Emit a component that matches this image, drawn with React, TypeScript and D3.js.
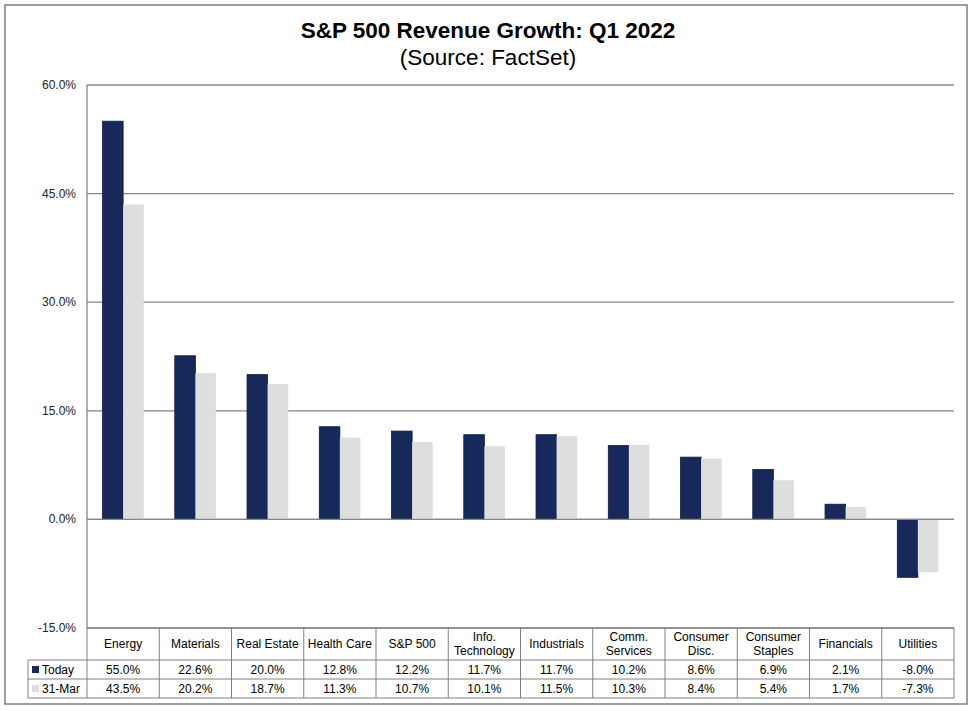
import React, { useEffect, useRef } from 'react';
import * as d3 from 'd3';

// sectors in chart order
const sectors = [
  'Energy', 'Materials', 'Real Estate', 'Health Care', 'S&P 500', 'Info. Technology',
  'Industrials', 'Comm. Services', 'Consumer Disc.', 'Consumer Staples', 'Financials', 'Utilities',
];
// header labels as they wrap in the table
const sectorLines: string[][] = [
  ['Energy'], ['Materials'], ['Real Estate'], ['Health Care'], ['S&P 500'], ['Info.', 'Technology'],
  ['Industrials'], ['Comm.', 'Services'], ['Consumer', 'Disc.'], ['Consumer', 'Staples'], ['Financials'], ['Utilities'],
];
const todayValues = [55.0, 22.6, 20.0, 12.8, 12.2, 11.7, 11.7, 10.2, 8.6, 6.9, 2.1, -8.0];
const marchValues = [43.5, 20.2, 18.7, 11.3, 10.7, 10.1, 11.5, 10.3, 8.4, 5.4, 1.7, -7.3];
const seriesNames = ['Today', '31-Mar'];
const seriesColors = ['#17295a', '#dedede'];
const yTicks = [-15, 0, 15, 30, 45, 60];

const W = 975;
const H = 711;

// plain hyphen for negatives, like the source
const pct = (v: number) => d3.format('.1f')(v).replace('\u2212', '-') + '%';

const App: React.FC = () => {
  const ref = useRef<SVGSVGElement>(null);

  useEffect(() => {
    const svg = d3.select(ref.current);
    svg.selectAll('*').remove();

    const font = '"Liberation Sans", Arial, sans-serif';
    const plot = { left: 87, right: 954, top: 85, bottom: 628 };

    // outer frame
    svg.append('rect')
      .attr('x', 5).attr('y', 5)
      .attr('width', 962).attr('height', 699)
      .attr('fill', '#fff')
      .attr('stroke', '#7f7f7f')
      .attr('stroke-width', 1.5);

    // titles
    svg.append('text')
      .attr('x', 488).attr('y', 38)
      .attr('text-anchor', 'middle')
      .attr('font-family', font)
      .attr('font-size', 22.5)
      .attr('font-weight', 'bold')
      .text('S&P 500 Revenue Growth: Q1 2022');
    svg.append('text')
      .attr('x', 488).attr('y', 65)
      .attr('text-anchor', 'middle')
      .attr('font-family', font)
      .attr('font-size', 22.5)
      .text('(Source: FactSet)');

    const y = d3.scaleLinear().domain([-15, 60]).range([plot.bottom, plot.top]);

    const x = d3.scaleBand<string>()
      .domain(sectors)
      .range([plot.left, plot.right])
      .paddingInner(0.43)
      .paddingOuter(0.215);
    const xs = d3.scaleBand<string>()
      .domain(seriesNames)
      .range([0, x.bandwidth()]);

    // gridlines
    svg.append('g')
      .selectAll('line')
      .data(yTicks)
      .join('line')
      .attr('x1', plot.left).attr('x2', plot.right)
      .attr('y1', d => y(d)).attr('y2', d => y(d))
      .attr('stroke', '#868686')
      .attr('stroke-width', 1.3);

    // y labels
    svg.append('g')
      .selectAll('text')
      .data(yTicks)
      .join('text')
      .attr('x', 76)
      .attr('y', d => y(d) + 4)
      .attr('text-anchor', 'end')
      .attr('font-family', font)
      .attr('font-size', 12)
      .attr('fill', '#222')
      .text(d => pct(d));

    // bars
    const series = [todayValues, marchValues];
    series.forEach((vals, si) => {
      svg.append('g')
        .selectAll('rect')
        .data(vals)
        .join('rect')
        .attr('x', (_d, i) => (x(sectors[i]) ?? 0) + (xs(seriesNames[si]) ?? 0))
        .attr('y', d => y(Math.max(0, d)))
        .attr('width', xs.bandwidth())
        .attr('height', d => Math.abs(y(d) - y(0)))
        .attr('fill', seriesColors[si])
        .attr('stroke', si === 0 ? '#0e1c44' : 'none')
        .attr('stroke-width', 0.8);
    });

    // zero line on top of bars
    svg.append('line')
      .attr('x1', plot.left).attr('x2', plot.right)
      .attr('y1', y(0)).attr('y2', y(0))
      .attr('stroke', '#868686')
      .attr('stroke-width', 1.3);

    // left axis line
    svg.append('line')
      .attr('x1', plot.left).attr('x2', plot.left)
      .attr('y1', plot.top).attr('y2', plot.bottom)
      .attr('stroke', '#868686')
      .attr('stroke-width', 1.3);

    // data table
    const col = d3.scaleBand<string>().domain(sectors).range([plot.left, plot.right]);
    const rowTop = [628, 660, 679, 698];
    const tbl = svg.append('g').attr('font-family', font).attr('font-size', 12).attr('fill', '#000');
    const lineColor = '#808080';

    // horizontal table lines
    rowTop.forEach((ry, i) => {
      tbl.append('line')
        .attr('x1', i === 0 ? plot.left : 28).attr('x2', plot.right)
        .attr('y1', ry).attr('y2', ry)
        .attr('stroke', lineColor).attr('stroke-width', 1);
    });
    // vertical table lines
    const vx = sectors.map(s => col(s) ?? 0).concat([plot.right]);
    vx.forEach(vxx => {
      tbl.append('line')
        .attr('x1', vxx).attr('x2', vxx)
        .attr('y1', rowTop[0]).attr('y2', rowTop[3])
        .attr('stroke', lineColor).attr('stroke-width', 1);
    });
    tbl.append('line')
      .attr('x1', 28).attr('x2', 28)
      .attr('y1', rowTop[1]).attr('y2', rowTop[3])
      .attr('stroke', lineColor).attr('stroke-width', 1);

    // headers
    sectors.forEach((s, i) => {
      const cx = (col(s) ?? 0) + col.bandwidth() / 2;
      const lines = sectorLines[i];
      const t = tbl.append('text').attr('text-anchor', 'middle');
      lines.forEach((ln, li) => {
        const yy = lines.length === 1 ? 648 : 641 + li * 14;
        t.append('tspan').attr('x', cx).attr('y', yy).text(ln);
      });
    });

    // values
    series.forEach((vals, si) => {
      const ty = (rowTop[si + 1] + rowTop[si + 2]) / 2 + 4.5;
      vals.forEach((v, i) => {
        tbl.append('text')
          .attr('x', (col(sectors[i]) ?? 0) + col.bandwidth() / 2)
          .attr('y', ty)
          .attr('text-anchor', 'middle')
          .text(pct(v));
      });
      // legend key
      const cy = (rowTop[si + 1] + rowTop[si + 2]) / 2;
      tbl.append('rect')
        .attr('x', 32).attr('y', cy - 3.5)
        .attr('width', 7).attr('height', 7)
        .attr('fill', seriesColors[si]);
      tbl.append('text')
        .attr('x', 42).attr('y', ty)
        .text(seriesNames[si]);
    });
  }, []);

  return (
    <svg
      ref={ref}
      width={W}
      height={H}
      style={{ position: 'absolute', left: 0, top: 0, background: '#fff' }}
    />
  );
};

export default App;
